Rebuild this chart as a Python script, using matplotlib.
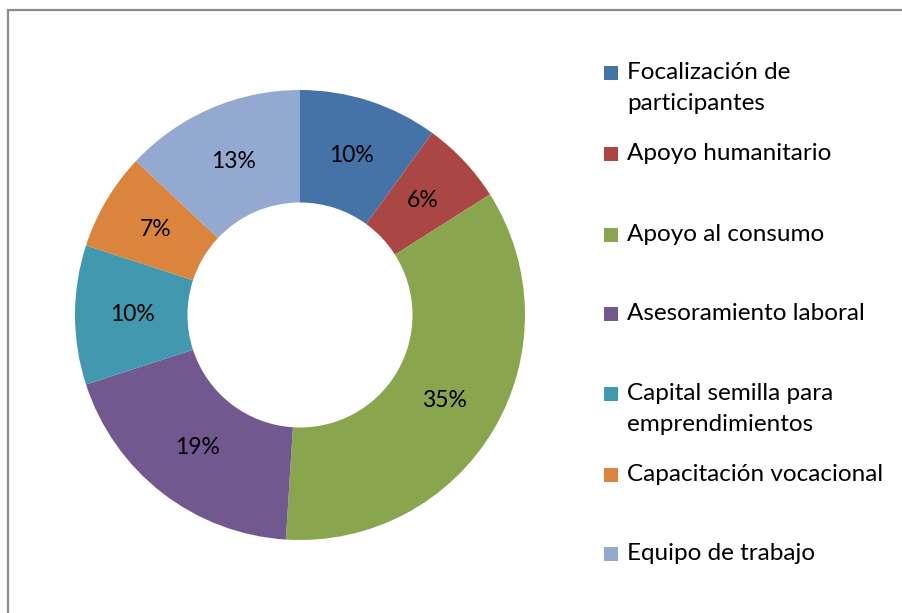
import matplotlib
matplotlib.use("Agg")
import matplotlib.pyplot as plt
from matplotlib.patches import Rectangle

# Share of activities
categories = [
    "Focalización de\nparticipantes",
    "Apoyo humanitario",
    "Apoyo al consumo",
    "Asesoramiento laboral",
    "Capital semilla para\nemprendimientos",
    "Capacitación vocacional",
    "Equipo de trabajo",
]
shares = [10, 6, 35, 19, 10, 7, 13]
colors = ["#4572A7", "#AA4643", "#89A54E", "#71588F", "#4198AF", "#DB843D", "#93A9CF"]

plt.rcParams["font.family"] = ["Lato", "DejaVu Sans"]

W, H = 903, 613
fig = plt.figure(figsize=(W / 100, H / 100), dpi=100)
fig.patch.set_facecolor("white")


def fx(x):
    return x / W


def fy(y):
    return 1 - y / H


# Chart area border (runs off the right and bottom edges)
fig.patches.append(Rectangle((fx(8), fy(640)), fx(1000), fy(10) - fy(640),
                             transform=fig.transFigure, fill=False,
                             edgecolor="#8C8C8C", linewidth=1.6))

# Donut
cx, cy, r = 300, 315, 225
ax = fig.add_axes([fx(cx - r), fy(cy + r), fx(2 * r), (2 * r) / H])
wedges, texts, autotexts = ax.pie(
    shares, colors=colors, startangle=90, counterclock=False, radius=1,
    wedgeprops=dict(width=0.5, edgecolor="none"),
    autopct=lambda p: f"{p:.0f}%", pctdistance=0.745,
    textprops=dict(fontsize=16.5, color="black"),
)
ax.set_xlim(-1, 1)
ax.set_ylim(-1, 1)
ax.set_aspect("equal")
ax.axis("off")

# Legend
legend_y = [73, 154, 235, 314, 394, 475, 554]
sq = 14
for label, col, y in zip(categories, colors, legend_y):
    fig.patches.append(Rectangle((fx(604), fy(y + sq / 2)), sq / W, sq / H,
                                 transform=fig.transFigure, facecolor=col,
                                 edgecolor="none"))
    fig.text(fx(627), fy(y - 11), label, fontsize=17.5, color="black",
             ha="left", va="top", linespacing=1.58)

fig.savefig("out.png", dpi=100)
